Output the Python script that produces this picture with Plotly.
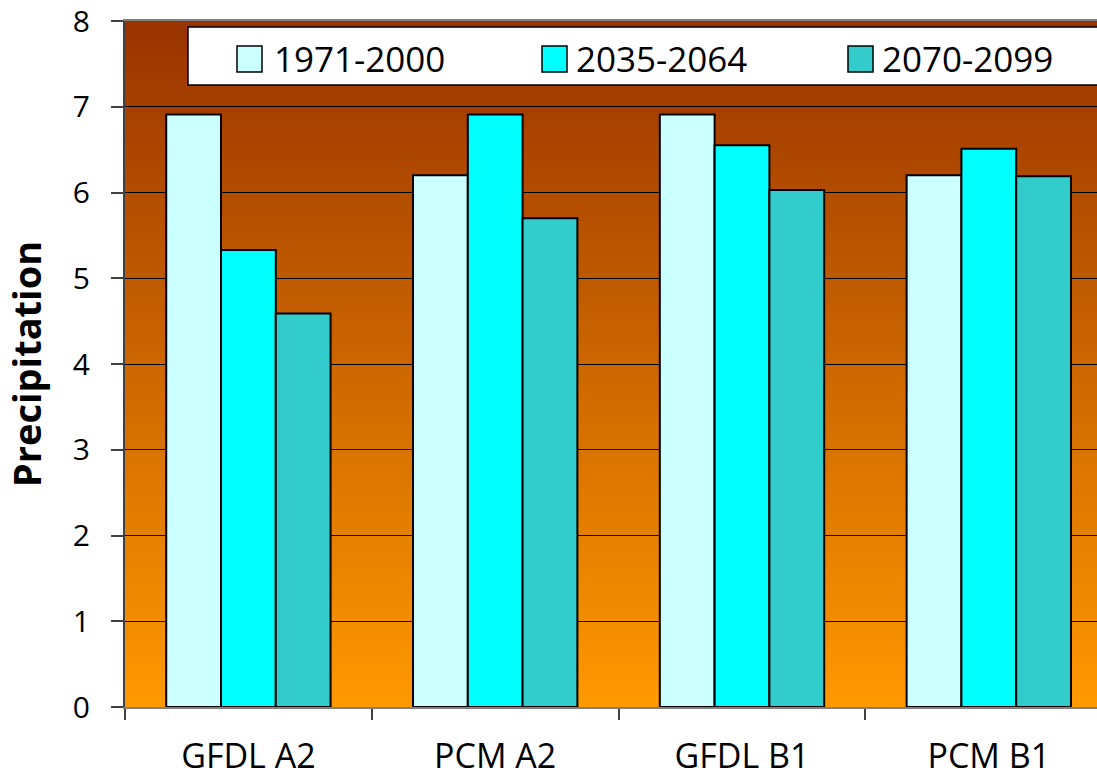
import plotly.graph_objects as go

# Scenario groups along the x axis
categories = ["GFDL A2", "PCM A2", "GFDL B1", "PCM B1"]

# Precipitation per period for each scenario
periods = ["1971-2000", "2035-2064", "2070-2099"]
p_1971_2000 = [6.91, 6.20, 6.91, 6.20]
p_2035_2064 = [5.33, 6.91, 6.55, 6.51]
p_2070_2099 = [4.59, 5.70, 6.03, 6.19]

y_ticks = [0, 1, 2, 3, 4, 5, 6, 7, 8]

series = [p_1971_2000, p_2035_2064, p_2070_2099]
colors = ["#CCFFFF", "#00FFFF", "#33CCCC"]

FONT = "Open Sans"
W, H = 1097, 780
ML, MR, MT, MB = 125, 0, 21, 73
PW, PH = W - ML - MR, H - MT - MB


def px_x(px):
    return (px - ML) / PW


def px_y(py):
    return (H - MB - py) / PH


fig = go.Figure()
for name, vals, col in zip(periods, series, colors):
    fig.add_trace(go.Bar(
        x=categories, y=vals, name=name,
        marker=dict(color=col, line=dict(color="black", width=2)),
        showlegend=False,
    ))

shapes = []
# vertical gradient behind the bars: dark brown at the top, orange at the bottom
N = 120
top = (153, 51, 0)
bot = (255, 153, 0)
for i in range(N):
    t = (i + 0.5) / N
    c = tuple(round(bot[k] + (top[k] - bot[k]) * t) for k in range(3))
    shapes.append(dict(
        type="rect", xref="x domain", yref="y domain",
        x0=0, x1=1, y0=i / N, y1=min(1, (i + 1) / N + 0.003),
        fillcolor="rgb(%d,%d,%d)" % c, line=dict(width=0), layer="below",
    ))

# legend box with swatches
shapes.append(dict(
    type="rect", xref="paper", yref="paper",
    x0=px_x(188), x1=1.05, y0=px_y(85), y1=px_y(27),
    fillcolor="white", line=dict(color="black", width=1.5), layer="above",
))
annotations = []
swatch_x = [237, 542, 848]
text_x = [275, 577, 883]
for name, col, sx, tx in zip(periods, colors, swatch_x, text_x):
    shapes.append(dict(
        type="rect", xref="paper", yref="paper",
        x0=px_x(sx), x1=px_x(sx + 25), y0=px_y(72), y1=px_y(46),
        fillcolor=col, line=dict(color="black", width=1.5), layer="above",
    ))
    annotations.append(dict(
        xref="paper", yref="paper", x=px_x(tx - 3), y=px_y(58),
        xanchor="left", yanchor="middle", showarrow=False, text=name,
        font=dict(family=FONT, size=35, color="black"),
    ))

fig.update_layout(
    width=W, height=H, autosize=False,
    margin=dict(l=ML, r=MR, t=MT, b=MB, pad=0, autoexpand=False),
    paper_bgcolor="white", plot_bgcolor="rgba(0,0,0,0)",
    barmode="group", bargap=0.334, bargroupgap=0,
    shapes=shapes, annotations=annotations,
    font=dict(family=FONT, color="black"),
    showlegend=False,
)

fig.update_xaxes(
    type="category", range=[-0.5, -0.5 + PW / 246.8],
    tickson="boundaries", ticks="outside", ticklen=11, tickwidth=1.5,
    tickcolor="#404040", showgrid=False,
    showline=True, linecolor="#808080", linewidth=2, mirror=True,
    tickfont=dict(family=FONT, size=34, color="black"),
    ticklabelstandoff=18, ticklabeloverflow="allow", zeroline=False,
    automargin=False,
)
fig.update_yaxes(
    range=[0, 8], tickvals=y_ticks, ticks="outside", ticklen=12,
    tickwidth=1.5, tickcolor="#404040",
    showgrid=True, gridcolor="black", gridwidth=1,
    showline=True, linecolor="#404040", linewidth=2,
    zeroline=False,
    tickfont=dict(family=FONT, size=30, color="black"),
    ticklabelstandoff=15, ticklabeloverflow="allow",
    automargin=False,
    title=dict(text="Precipitation", standoff=29,
               font=dict(family=FONT, size=38, color="black", weight="bold")),
)

fig.write_html("out.html")
